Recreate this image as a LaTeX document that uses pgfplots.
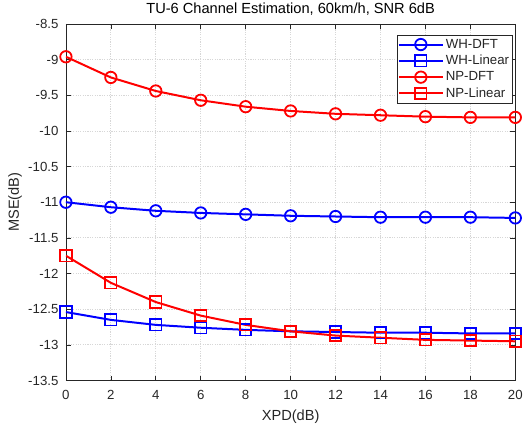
\documentclass[border=0pt]{standalone}
\usepackage{fontspec}
\setmainfont{Liberation Sans}
\usepackage{pgfplots}
\pgfplotsset{compat=1.18}
\definecolor{axgray}{RGB}{38,38,38}
\definecolor{gridgray}{RGB}{215,215,215}
\definecolor{mblue}{RGB}{0,0,255}
\definecolor{mred}{RGB}{255,0,0}

\begin{document}
\begin{tikzpicture}
% fixed page frame around the plot box
\path (-66bp,-46bp) rectangle (460bp,381bp);
\begin{axis}[
  at={(0,0)}, anchor=south west,
  width=450bp, height=357bp, scale only axis,
  xmin=0, xmax=20, ymin=-13.5, ymax=-8.5,
  xtick={0,2,4,6,8,10,12,14,16,18,20},
  ytick={-13.5,-13,-12.5,-12,-11.5,-11,-10.5,-10,-9.5,-9,-8.5},
  /pgf/number format/assume math mode=true,
  tick pos=both, tick align=inside,
  major tick length=5bp,
  axis line style={axgray, line width=0.6bp},
  every tick/.style={axgray, line width=0.6bp},
  grid=major,
  major grid style={gridgray, line width=0.8bp, dash pattern=on 1.2bp off 1.2bp},
  ticklabel style={font=\fontsize{13.3}{16}\selectfont, text=axgray},
  yticklabel style={xshift=-4bp},
  xticklabel style={yshift=-6bp},
  title={TU-6 Channel Estimation, 60km/h, SNR 6dB},
  title style={font=\fontsize{14.7}{17}\selectfont, text=black,
    at={(axis description cs:0.5,1.0235)}, anchor=center},
  xlabel={XPD(dB)},
  xlabel style={font=\fontsize{14.7}{17}\selectfont, text=axgray,
    at={(axis description cs:0.5,-0.1008)}, anchor=center},
  ylabel={MSE(dB)},
  ylabel style={font=\fontsize{14.7}{17}\selectfont, text=axgray,
    at={(axis description cs:-0.1133,0.5)}, anchor=center},
  legend cell align=left,
  legend style={at={(1,1)}, anchor=north east, xshift=-3bp, yshift=-11bp,
    draw=axgray, line width=0.6bp, fill=white,
    font=\fontsize{13.3}{16}\selectfont, text=axgray,
    inner xsep=1bp, inner ysep=2bp, row sep=1.5bp},
  legend image code/.code={%
    \draw[mark repeat=2, mark phase=2, #1]
      plot coordinates {(0bp,0bp) (22bp,0bp) (44bp,0bp)};},
  every axis plot/.append style={line width=2bp, mark size=5.7bp,
    mark options={solid, line width=1.8bp}},
]
\addplot[mblue, mark=o] coordinates {
  (0,-11.00) (2,-11.07) (4,-11.12) (6,-11.15) (8,-11.17) (10,-11.19)
  (12,-11.20) (14,-11.21) (16,-11.21) (18,-11.21) (20,-11.22)};
\addlegendentry{WH-DFT}
\addplot[mblue, mark=square] coordinates {
  (0,-12.54) (2,-12.65) (4,-12.72) (6,-12.76) (8,-12.79) (10,-12.81)
  (12,-12.82) (14,-12.83) (16,-12.83) (18,-12.84) (20,-12.84)};
\addlegendentry{WH-Linear}
\addplot[mred, mark=o] coordinates {
  (0,-8.96) (2,-9.25) (4,-9.44) (6,-9.57) (8,-9.66) (10,-9.72)
  (12,-9.76) (14,-9.78) (16,-9.80) (18,-9.81) (20,-9.81)};
\addlegendentry{NP-DFT}
\addplot[mred, mark=square] coordinates {
  (0,-11.75) (2,-12.13) (4,-12.40) (6,-12.59) (8,-12.72) (10,-12.81)
  (12,-12.87) (14,-12.90) (16,-12.93) (18,-12.94) (20,-12.95)};
\addlegendentry{NP-Linear}
\end{axis}
\end{tikzpicture}
\end{document}
